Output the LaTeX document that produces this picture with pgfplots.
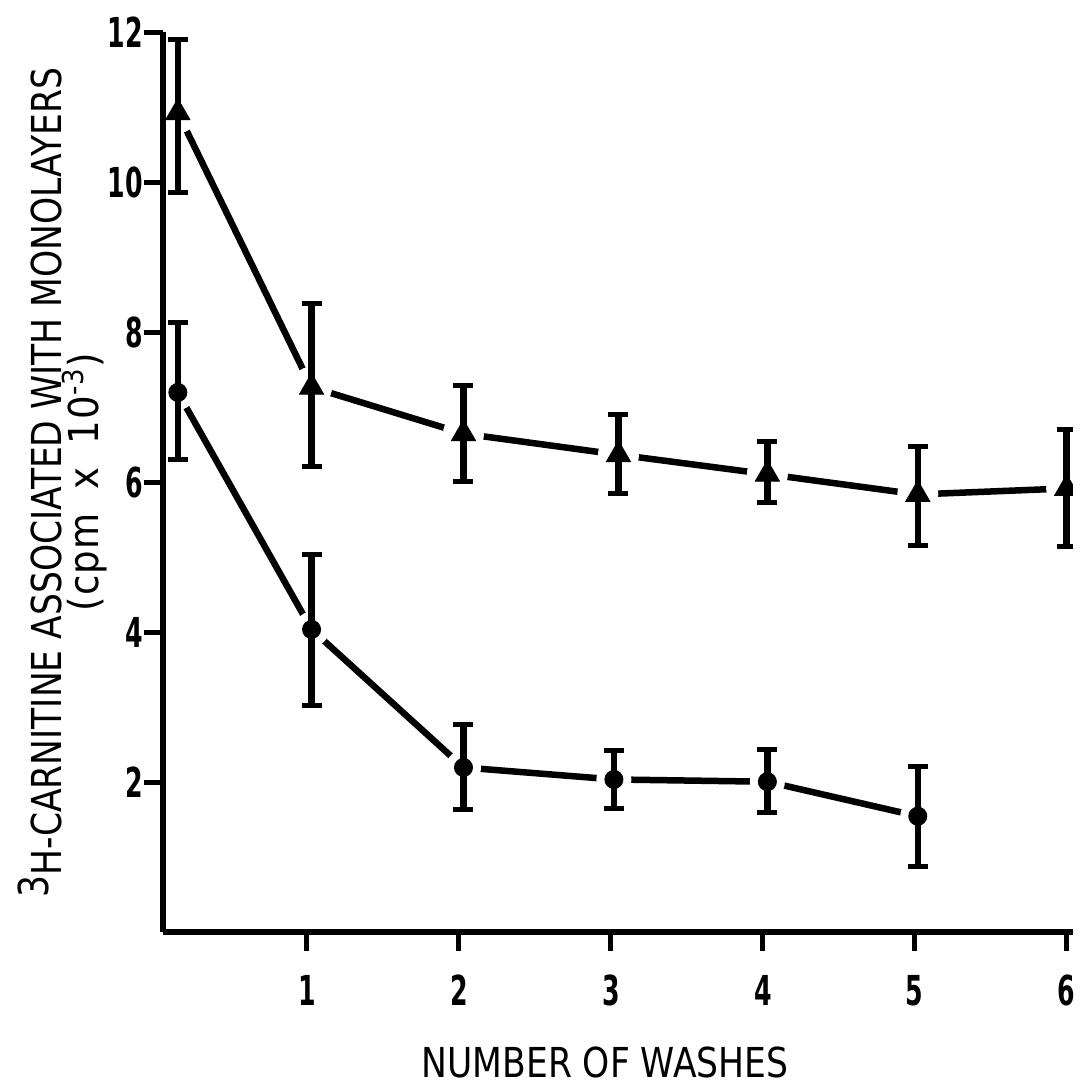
\documentclass[border=0pt]{standalone}
\usepackage{fontspec}
\setmainfont{DejaVu Sans Condensed}[FakeStretch=0.93]
\newfontfamily\numfont{DejaVu Sans Condensed Bold}
\newfontfamily\unitfont{DejaVu Sans Condensed}[LetterSpace=3]
\usepackage{pgfplots}
\pgfplotsset{compat=1.18}

% x, y, upper and lower error (cpm x 10^-3)
\pgfplotstableread{
x    y     ep   em
0.15 10.93 0.97 1.06
1.03 7.27  1.12 1.06
2.03 6.65  0.64 0.64
3.05 6.37  0.54 0.52
4.03 6.11  0.44 0.38
5.02 5.84  0.64 0.68
6.00 5.92  0.79 0.77
}\tri
\pgfplotstableread{
x    y     ep   em
0.15 7.20  0.93 0.89
1.03 4.04  1.00 1.01
2.03 2.20  0.57 0.56
3.02 2.04  0.39 0.39
4.03 2.01  0.43 0.41
5.02 1.55  0.66 0.67
}\circ

\begin{document}
\begin{tikzpicture}
\begin{axis}[
  scale only axis, width=364pt, height=360pt,
  xmin=0.05, xmax=6.04, ymin=0, ymax=12,
  axis lines*=left,
  axis line style={line width=2.4pt},
  xtick={1,2,3,4,5,6}, ytick={2,4,6,8,10,12},
  tick align=outside, major tick length=7.5pt,
  tick style={line width=2pt, black},
  ticklabel style={font=\numfont\fontsize{16.5}{18}\selectfont},
  /pgf/number format/assume math mode=true,
  xticklabel={\scalebox{0.68}[1]{\pgfmathprintnumber{\tick}}},
  yticklabel={\scalebox{0.68}[1]{\pgfmathprintnumber{\tick}}},
  yticklabel style={xshift=3pt},
  xticklabel style={yshift=-6pt},
  label style={font=\fontsize{16.5}{17}\selectfont},
  xlabel={NUMBER OF WASHES},
  xlabel style={at={(axis description cs:0.486,-0.127)}, anchor=north, inner sep=0pt},
  ylabel={\raisebox{0.3em}{3}H-CARNITINE ASSOCIATED WITH MONOLAYERS\\[-2pt]{\unitfont (cpm\hspace{0.25em} x\hspace{0.25em} 10\textsuperscript{-3})}},
  ylabel style={align=center, at={(axis description cs:-0.051,0.5)}, anchor=south},
  axis on top,
  clip marker paths=true,
]
% connecting lines
\addplot[black, line width=2.6pt, no markers] table[x=x,y=y]{\tri};
\addplot[black, line width=2.6pt, no markers] table[x=x,y=y]{\circ};
% white gaps round the points
\addplot[only marks, mark=*, mark size=8pt, mark options={draw=white, fill=white}] table[x=x,y=y]{\tri};
\addplot[only marks, mark=*, mark size=6.8pt, mark options={draw=white, fill=white}] table[x=x,y=y]{\circ};
% points with error bars
\addplot[black, only marks, mark=triangle*, mark size=5.5pt,
  error bars/.cd, y dir=both, y explicit,
  error bar style={line width=2.6pt},
  error mark options={rotate=90, mark size=4pt, line width=2pt}]
  table[x=x, y=y, y error plus=ep, y error minus=em]{\tri};
\addplot[black, only marks, mark=*, mark size=3.6pt,
  error bars/.cd, y dir=both, y explicit,
  error bar style={line width=2.6pt},
  error mark options={rotate=90, mark size=4pt, line width=2pt}]
  table[x=x, y=y, y error plus=ep, y error minus=em]{\circ};
\end{axis}
% margins as in the scan
\path ([xshift=-4pt]current bounding box.west) ([yshift=3.5pt]current bounding box.north)
      ([yshift=-3pt]current bounding box.south);
\end{tikzpicture}
\end{document}
